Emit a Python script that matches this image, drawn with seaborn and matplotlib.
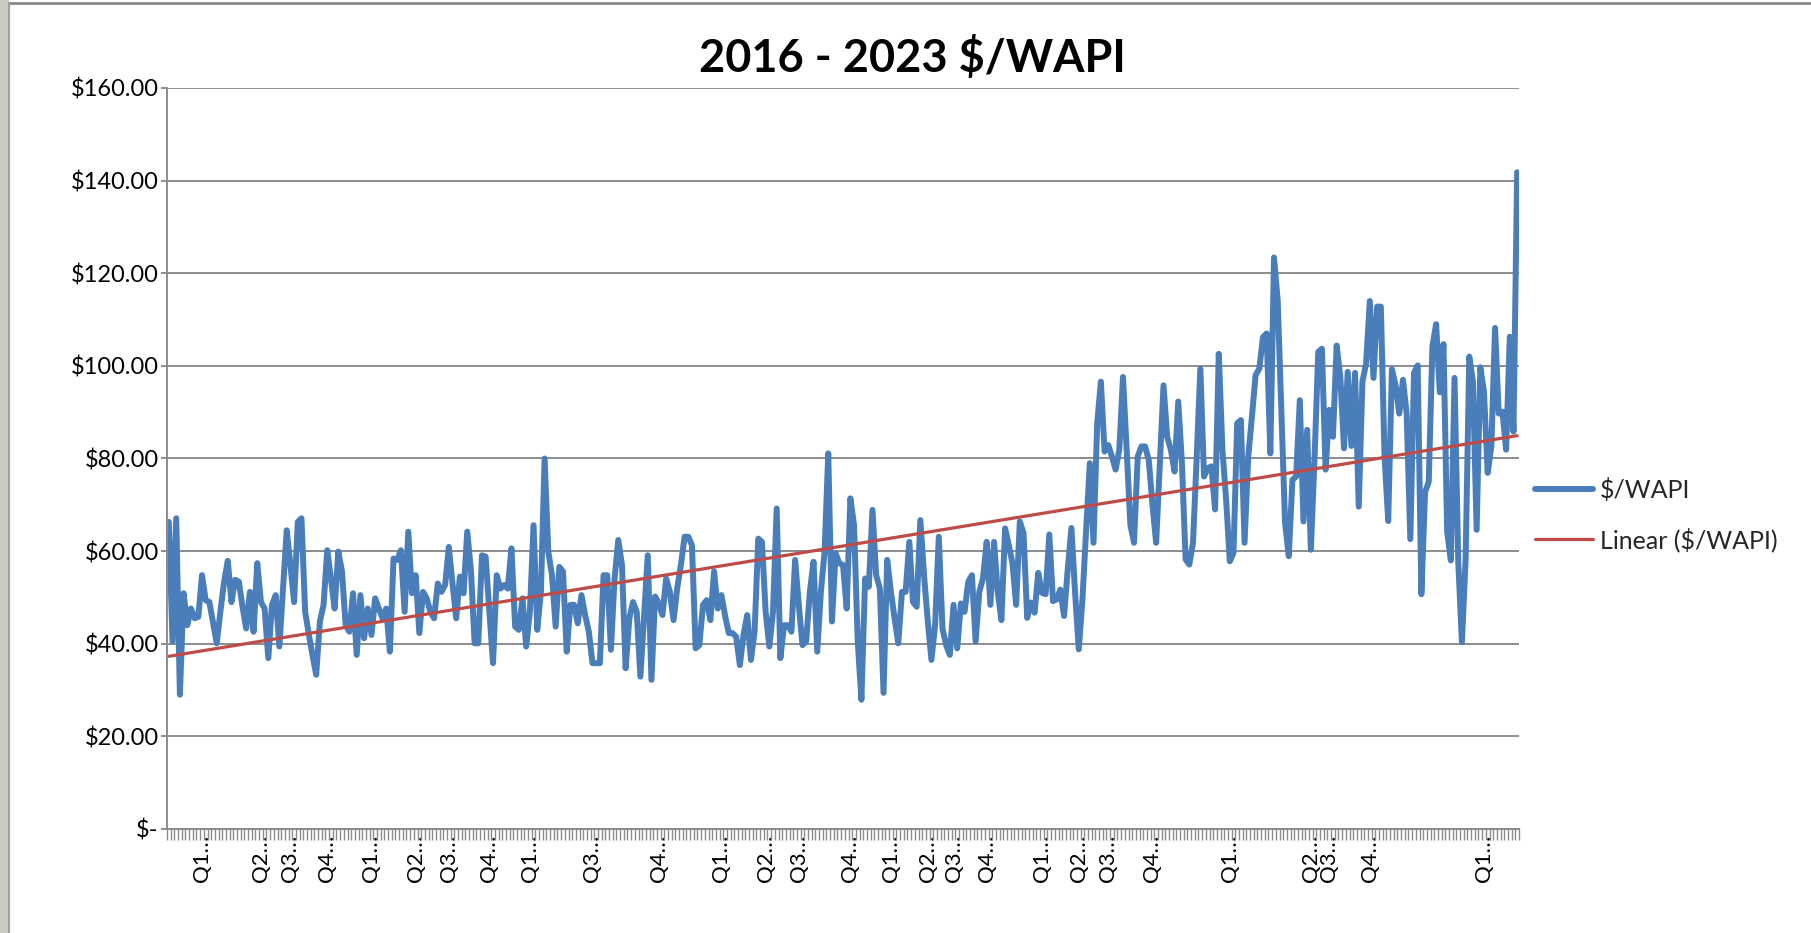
import numpy as np
import pandas as pd
import matplotlib
matplotlib.use('Agg')
import matplotlib.pyplot as plt
import seaborn as sns
from matplotlib.lines import Line2D
from matplotlib.patches import Rectangle
from matplotlib.ticker import FuncFormatter

BLUE = '#4A7EBB'
RED = '#BE4B48'
GRID = '#8C8C8C'

# weekly $/WAPI left to right
wapi_a = [66.3, 40.5, 67.1, 29.0, 50.9, 44.0, 47.6, 45.5, 45.8, 54.8, 49.4, 49.0,
          44.5, 40.1, 47.0, 53.4, 57.9, 49.0, 53.8, 53.4, 48.0, 43.3, 51.2, 42.6,
          57.4, 49.0, 47.6, 36.9, 48.4, 50.5, 39.4, 52.0, 64.5, 57.0, 49.0, 66.3,
          67.1, 46.9, 42.0, 37.5, 33.3, 44.8, 48.4, 60.2, 54.0, 47.6]
wapi_b = [59.9, 55.6, 44.0, 42.6, 50.9, 37.6, 50.5, 41.2, 47.6, 41.9, 49.8, 47.6,
          45.5, 47.6, 38.3, 58.4, 58.1, 60.2, 46.9, 64.2, 50.9, 54.8, 42.3, 51.2,
          49.8, 46.9, 45.5, 53.0, 51.2, 52.7, 60.9, 53.0, 45.5, 54.5, 50.9, 64.2,
          55.9, 40.1, 40.1, 59.1, 58.8, 47.0, 35.8, 54.8, 51.9, 52.7, 51.9, 60.6]
wapi_c = [43.7, 43.0, 49.8, 39.4, 46.9, 65.6, 43.0, 51.2, 80.0, 59.9, 54.8, 43.7,
          56.6, 55.6, 38.3, 48.4, 48.4, 44.4, 50.5, 46.2, 42.6, 35.8, 35.8, 35.8,
          54.8, 54.8, 38.7, 54.1, 62.4, 57.0, 34.7, 45.5, 49.0, 46.9, 32.9, 46.0,
          59.1, 32.2, 50.2, 48.7, 46.2, 54.1, 51.2, 45.1, 52.0]
wapi_d = [57.0, 63.1, 63.1, 61.3, 39.0, 39.7, 48.4, 49.4, 45.1, 55.6, 47.6, 50.5,
          46.0, 42.3, 42.3, 41.5, 35.4, 41.9, 46.2, 36.5, 42.6, 62.7, 62.0, 46.9,
          39.4, 46.9, 69.2, 36.9, 44.0, 44.0, 42.6, 58.1, 48.4, 39.7, 40.5, 51.2,
          57.7, 38.3, 51.2, 59.9, 81.1, 44.8, 59.5, 57.4, 57.0, 47.6]
wapi_e = [71.4, 65.6, 40.5, 27.9, 54.1, 52.3, 68.9, 54.8, 52.0, 29.4, 58.1, 51.2,
          45.5, 40.1, 51.2, 51.2, 62.0, 49.0, 48.0, 66.7, 54.8, 45.0, 36.5, 44.0,
          63.1, 43.3, 39.7, 37.6, 48.4, 39.0, 48.7, 46.9, 53.4, 54.8, 40.5, 51.2,
          54.1, 62.0, 48.4, 62.0, 51.2, 45.1, 64.9, 61.3, 57.4, 48.4]
wapi_f = [66.4, 63.9, 45.6, 48.9, 46.7, 55.3, 51.0, 50.7, 63.6, 49.2, 49.6, 51.7,
          46.0, 56.0, 65.0, 51.0, 38.8, 49.6, 64.6, 79.0, 61.8, 87.6, 96.6, 81.5,
          82.9, 80.4, 77.6, 81.9, 97.6, 81.9, 65.7, 61.8, 80.4, 82.6, 82.6, 79.7,
          70.0, 61.8, 79.0, 95.8, 84.7, 81.9, 77.2, 92.3, 79.0]
wapi_g = [58.2, 57.1, 61.8, 80.0, 99.4, 76.1, 77.9, 78.3, 69.0, 102.6, 81.9, 71.1,
          57.8, 59.6, 87.6, 88.3, 61.8, 80.4, 89.0, 98.0, 99.4, 106.2, 107.0, 81.1,
          123.4, 114.1, 90.0, 66.1, 58.9, 75.4, 76.1, 92.6, 66.4, 86.2, 60.3, 80.0,
          103.0, 103.7, 77.6, 90.5, 84.7, 104.4, 97.6, 82.2, 98.7]
wapi_h = [82.7, 98.5, 69.6, 96.6, 100.5, 114.0, 97.4, 112.8, 112.8, 80.4, 66.5, 99.3,
          95.8, 89.7, 97.0, 89.7, 62.6, 98.5, 100.1, 50.7, 72.7, 75.0, 104.3, 109.0,
          94.3, 104.7, 64.2, 58.0, 97.4, 58.0, 40.3, 58.0, 102.0, 96.6, 64.6, 99.7,
          94.3, 76.9, 82.7, 108.2, 89.7, 90.1, 81.9, 106.3, 85.8, 141.8]

# only some categories carry a (truncated) quarter label
quarter_idx = [9, 25, 33, 43, 55, 67, 76, 87, 98, 115, 133, 150, 162, 171, 185,
               196, 206, 213, 222, 237, 247, 255, 267, 288, 310, 315, 326, 357]
quarter_lbl = ['Q1', 'Q2', 'Q3', 'Q4', 'Q1', 'Q2', 'Q3', 'Q4', 'Q1', 'Q3', 'Q4',
               'Q1', 'Q2', 'Q3', 'Q4', 'Q1', 'Q2', 'Q3', 'Q4', 'Q1', 'Q2', 'Q3',
               'Q4', 'Q1', 'Q2', 'Q3', 'Q4', 'Q1']

sns.set_theme(style='white')
plt.rcParams['font.family'] = ['Lato', 'DejaVu Sans']
plt.rcParams['text.parse_math'] = False

wapi = np.array(wapi_a + wapi_b + wapi_c + wapi_d + wapi_e + wapi_f + wapi_g + wapi_h)
n = len(wapi)
df = pd.DataFrame({'week': np.arange(n), 'wapi': wapi})
slope, icpt = np.polyfit(df['week'], df['wapi'], 1)
df['trend'] = icpt + slope * df['week']

fig = plt.figure(figsize=(18.11, 9.33), dpi=100)
fig.patch.set_facecolor('white')
ax = fig.add_axes([167 / 1811, 104 / 933, 1352 / 1811, 741 / 933])

sns.lineplot(data=df, x='week', y='wapi', ax=ax, color=BLUE, linewidth=4.3,
             solid_joinstyle='round', solid_capstyle='round')
sns.lineplot(data=df, x='week', y='trend', ax=ax, color=RED, linewidth=2.3)

ax.set_xlim(-0.5, n - 0.5)
ax.set_ylim(0, 160)
ax.set_yticks(np.arange(0, 161, 20))
ax.yaxis.set_major_formatter(FuncFormatter(
    lambda v, p: '$-' if v == 0 else f'${v:,.2f}'))
ax.set_xlabel('')
ax.set_ylabel('')

ax.grid(axis='y', color=GRID, linewidth=1.4)
ax.set_axisbelow(True)
for side in ['top', 'right']:
    ax.spines[side].set_visible(False)
for side in ['left', 'bottom']:
    ax.spines[side].set_color(GRID)
    ax.spines[side].set_linewidth(1.4)

ax.set_xticks(np.arange(n + 1) - 0.5, minor=True)
ax.set_xticks(quarter_idx)
ax.set_xticklabels([q + '\u2026' for q in quarter_lbl], rotation=90)
ax.tick_params(axis='x', which='major', length=0, pad=4, labelsize=16,
               labelcolor='black')
ax.tick_params(axis='x', which='minor', length=8, width=1.0, color=GRID,
               direction='out', bottom=True)
ax.tick_params(axis='y', length=4, width=1.4, color=GRID, direction='out',
               left=True, pad=2, labelsize=17, labelcolor='black')

fig.text(912 / 1811, 1 - 58 / 933, '2016 - 2023 $/WAPI', ha='center', va='center',
         fontsize=32.5, fontweight='bold', color='black')

handles = [Line2D([], [], color=BLUE, lw=4.3, solid_capstyle='round'),
           Line2D([], [], color=RED, lw=2.3)]
fig.legend(handles, ['$/WAPI', 'Linear ($/WAPI)'], loc='center left',
           bbox_to_anchor=(1535 / 1811, 1 - 515 / 933), frameon=False,
           fontsize=18, handlelength=2.3, handletextpad=0.3, labelspacing=1.0,
           borderpad=0, borderaxespad=0)

# screenshot frame
fig.add_artist(Rectangle((0, 0), 9 / 1811, 1, transform=fig.transFigure,
                         facecolor='#c9cbc4', edgecolor='none', zorder=-1))
fig.add_artist(Line2D([9 / 1811, 1], [1 - 3 / 933, 1 - 3 / 933],
                      transform=fig.transFigure, color='#8a8a8a', lw=2))
fig.add_artist(Line2D([9 / 1811, 9 / 1811], [0, 1 - 3 / 933],
                      transform=fig.transFigure, color='#a0a0a0', lw=1.5))

fig.savefig('out.png', dpi=100)
plt.close(fig)
